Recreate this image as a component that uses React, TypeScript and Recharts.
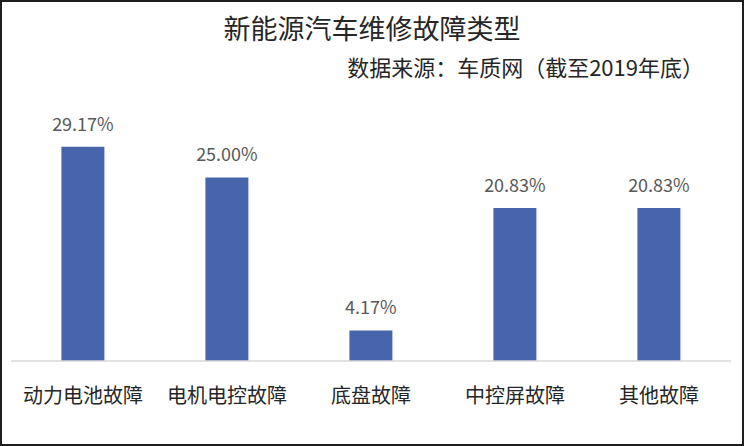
import { BarChart, Bar, XAxis, YAxis, LabelList } from 'recharts';

const categories = ['动力电池故障', '电机电控故障', '底盘故障', '中控屏故障', '其他故障'];
const shares = [29.17, 25.0, 4.17, 20.83, 20.83];
const yDomain: [number, number] = [0, 35];

const TITLE = '新能源汽车维修故障类型';
const SOURCE = '数据来源：车质网（截至2019年底）';

const FONT = '"Noto Sans CJK SC", "Noto Sans", sans-serif';

const data = categories.map((name, i) => ({ name, value: shares[i] }));

function CategoryTick(props: any) {
  const { x, y, payload } = props;
  return (
    <text
      x={x}
      y={y + 31}
      textAnchor="middle"
      dominantBaseline="central"
      fill="#262626"
      fontSize={20}
      fontFamily={FONT}
    >
      {payload.value}
    </text>
  );
}

export default function App() {
  return (
    <div
      style={{
        position: 'fixed',
        left: 0,
        top: 0,
        width: 744,
        height: 446,
        boxSizing: 'border-box',
        border: '2px solid #1e1e1e',
        background: '#fff',
        fontFamily: FONT,
      }}
    >
      <div
        style={{
          position: 'absolute',
          left: 0,
          width: 740,
          top: 8,
          textAlign: 'center',
          fontSize: 27,
          lineHeight: '36px',
          color: '#262626',
        }}
      >
        {TITLE}
      </div>
      <div
        style={{
          position: 'absolute',
          right: 38,
          top: 49,
          fontSize: 22,
          lineHeight: '30px',
          color: '#262626',
        }}
      >
        {SOURCE}
      </div>
      <BarChart
        width={740}
        height={442}
        data={data}
        margin={{ top: 102, right: 11, bottom: 23, left: 9 }}
        barCategoryGap="35%"
      >
        <XAxis
          dataKey="name"
          axisLine={{ stroke: '#d9d9d9', strokeWidth: 1.5 }}
          tickLine={false}
          tickSize={0}
          tickMargin={2}
          height={60}
          interval={0}
          tick={<CategoryTick />}
        />
        <YAxis hide domain={yDomain} />
        <Bar dataKey="value" fill="#4864AB" isAnimationActive={false}>
          <LabelList
            dataKey="value"
            position="top"
            offset={16}
            formatter={(v: any) => `${Number(v).toFixed(2)}%`}
            fill="#595959"
            fontSize={18}
            fontFamily={FONT}
          />
        </Bar>
      </BarChart>
    </div>
  );
}
